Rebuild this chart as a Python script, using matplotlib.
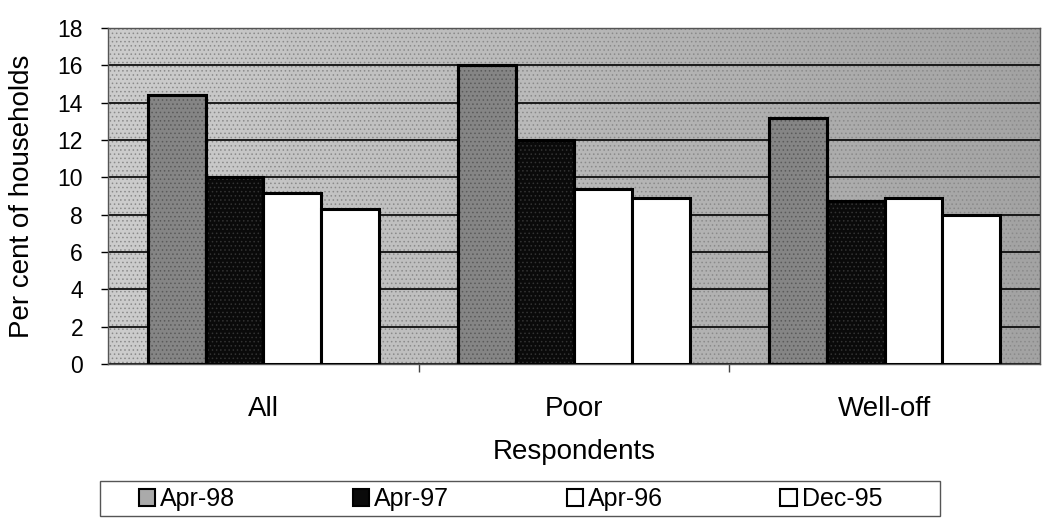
import matplotlib
matplotlib.use('Agg')
import matplotlib.pyplot as plt
import numpy as np

plt.rcParams['font.family'] = ['Liberation Sans', 'DejaVu Sans']
plt.rcParams['hatch.linewidth'] = 0.6

# data
categories = ['All', 'Poor', 'Well-off']
series = ['Apr-98', 'Apr-97', 'Apr-96', 'Dec-95']
apr98 = [14.4, 16.0, 13.2]
apr97 = [10.0, 12.0, 8.75]
apr96 = [9.15, 9.4, 8.9]
dec95 = [8.3, 8.9, 8.0]
values = [apr98, apr97, apr96, dec95]

face = ['#858585', '#0a0a0a', 'white', 'white']
hatches = ['....', '....', None, None]
hatch_col = ['#5a5a5a', '#333333', 'black', 'black']

W, H = 1043, 527
fig = plt.figure(figsize=(W/100, H/100), dpi=100)
ax = fig.add_axes([108/W, 1 - 364/H, (1040-108)/W, (364-28)/H])

# textured grey background, a bit darker to the right
grad = np.linspace(0.80, 0.64, 256).reshape(1, -1)
ax.imshow(grad, extent=(0, 1, 0, 1), transform=ax.transAxes, cmap='gray',
          vmin=0, vmax=1, aspect='auto', zorder=0)
ax.add_patch(plt.Rectangle((0, 0), 1, 1, transform=ax.transAxes, facecolor='none',
                           edgecolor='#8a8a8a', hatch='....', lw=0, zorder=0.5))

x = np.arange(len(categories))
w = 0.186
for i in range(len(series)):
    pos = x - 1.5*w + i*w
    ax.bar(pos, values[i], w, color=face[i], edgecolor='black',
           linewidth=2.2, zorder=3, label=series[i])
    if hatches[i]:
        ax.bar(pos, values[i], w, color='none', edgecolor=hatch_col[i],
               hatch=hatches[i], linewidth=0, zorder=3.5)
        ax.bar(pos, values[i], w, color='none', edgecolor='black',
               linewidth=2.2, zorder=4)

ax.set_ylim(0, 18)
ax.set_xlim(-0.5, 2.5)
ax.set_yticks(range(0, 19, 2))
ax.yaxis.grid(True, color='black', linewidth=1.2, zorder=1)

ax.set_xticks(x)
ax.set_xticklabels(categories, fontsize=20)
ax.set_xticks([0.5, 1.5], minor=True)
ax.tick_params(axis='x', which='major', length=0, pad=23)
ax.tick_params(axis='x', which='minor', length=6, width=1, color='#444444')
ax.tick_params(axis='y', labelsize=16.5, length=5, width=1, pad=13)
for s in ax.spines.values():
    s.set_color('#555555')
    s.set_linewidth(1.0)

ax.set_ylabel('Per cent of households', fontsize=20)
ax.yaxis.set_label_coords(-0.078, 0.5)
ax.set_xlabel('Respondents', fontsize=20)
ax.xaxis.set_label_coords(0.5, -0.222)

# legend box with the four entries spread across it
fig.patches.append(plt.Rectangle((100/W, 1 - 516/H), 840/W, 35/H,
                                 transform=fig.transFigure, facecolor='white',
                                 edgecolor='#555555', linewidth=1.0))
leg = fig.legend(loc='center left', bbox_to_anchor=(139/W, 1 - 499/H),
                 ncol=4, fontsize=18, frameon=False,
                 handlelength=0.65, handleheight=0.65, handletextpad=0.2,
                 columnspacing=4.7, borderaxespad=0, borderpad=0)
for h in leg.legend_handles:
    h.set_linewidth(1.5)
leg.legend_handles[0].set_facecolor('#aaaaaa')

fig.savefig('out.png', dpi=100, facecolor='white')
